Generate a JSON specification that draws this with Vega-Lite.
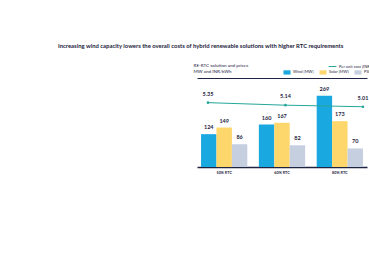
{
  "$schema": "https://vega.github.io/schema/vega-lite/v6.json",
  "width": 170,
  "height": 89,
  "autosize": {"type": "none"},
  "padding": {"left": 197, "top": 78, "right": 2, "bottom": 100},
  "background": "white",
  "config": {"view": {"stroke": null}, "font": "Lato"},
  "title": {
    "text": "Increasing wind capacity lowers the overall costs of hybrid renewable solutions with higher RTC requirements",
    "anchor": "start",
    "frame": "group",
    "dx": -139,
    "offset": 13,
    "fontSize": 5.9,
    "fontWeight": "bold",
    "color": "#1d2340"
  },
  "datasets": {
    "bars": [
      {"rtc": "50% RTC", "type": "Wind (MW)", "mw": 124},
      {"rtc": "50% RTC", "type": "Solar (MW)", "mw": 149},
      {"rtc": "50% RTC", "type": "PSP (MW)", "mw": 86},
      {"rtc": "60% RTC", "type": "Wind (MW)", "mw": 160},
      {"rtc": "60% RTC", "type": "Solar (MW)", "mw": 167},
      {"rtc": "60% RTC", "type": "PSP (MW)", "mw": 82},
      {"rtc": "80% RTC", "type": "Wind (MW)", "mw": 269},
      {"rtc": "80% RTC", "type": "Solar (MW)", "mw": 173},
      {"rtc": "80% RTC", "type": "PSP (MW)", "mw": 70}
    ],
    "cost": [
      {"rtc": "50% RTC", "cost": 5.35},
      {"rtc": "60% RTC", "cost": 5.14},
      {"rtc": "80% RTC", "cost": 5.01}
    ]
  },
  "layer": [
    {
      "data": {"name": "bars"},
      "encoding": {
        "x": {
          "field": "rtc",
          "type": "nominal",
          "sort": ["50% RTC", "60% RTC", "80% RTC"],
          "scale": {"paddingInner": 0.2, "paddingOuter": 0.07},
          "axis": {
            "orient": "bottom",
            "title": null,
            "labelAngle": 0,
            "labelFontSize": 3.8,
            "labelFontWeight": "bold",
            "labelColor": "#1d2340",
            "labelPadding": 3,
            "ticks": false,
            "domainColor": "#1d2340",
            "domainWidth": 1.5
          }
        },
        "xOffset": {
          "field": "type",
          "type": "nominal",
          "sort": ["Wind (MW)", "Solar (MW)", "PSP (MW)"],
          "scale": {"paddingInner": 0}
        },
        "y": {
          "field": "mw",
          "type": "quantitative",
          "scale": {"domain": [0, 336]},
          "axis": {
            "title": ["RE-RTC solution and prices", "MW and INR/kWh"],
            "titleAngle": 0,
            "titleAlign": "left",
            "titleBaseline": "top",
            "titleX": -4,
            "titleY": -16,
            "titleFontSize": 4.6,
            "titleFontWeight": "normal",
            "titleColor": "#1d2340",
            "titleLineHeight": 6,
            "labels": false,
            "ticks": false,
            "domain": false,
            "grid": false
          }
        }
      },
      "layer": [
        {
          "mark": {"type": "bar"},
          "encoding": {
            "color": {
              "field": "type",
              "type": "nominal",
              "scale": {
                "domain": ["Wind (MW)", "Solar (MW)", "PSP (MW)"],
                "range": ["#1AA8E0", "#FDD66C", "#C6CFE0"]
              },
              "legend": {
                "orient": "none",
                "legendX": 86,
                "legendY": -10,
                "direction": "horizontal",
                "title": null,
                "symbolType": "M-1,-0.6H1V0.6H-1Z",
                "symbolSize": 50,
                "symbolStrokeWidth": 0,
                "labelFontSize": 4,
                "labelColor": "#1d2340",
                "labelOffset": 2,
                "columnPadding": 5,
                "padding": 0
              }
            }
          }
        },
        {
          "mark": {"type": "text", "dy": -4, "fontSize": 5.5, "fontWeight": "bold", "color": "#1d2340", "baseline": "bottom"},
          "encoding": {"text": {"field": "mw", "type": "quantitative"}}
        }
      ]
    },
    {
      "data": {"name": "cost"},
      "encoding": {
        "x": {
          "field": "rtc",
          "type": "ordinal",
          "sort": ["50% RTC", "60% RTC", "80% RTC"],
          "scale": {"type": "point", "padding": 0.097, "align": 0.73},
          "axis": {
            "orient": "top",
            "title": null,
            "labels": false,
            "ticks": false,
            "domainColor": "#1d2340",
            "domainWidth": 1
          }
        },
        "y": {
          "field": "cost",
          "type": "quantitative",
          "scale": {"domain": [0, 7.4]},
          "axis": null
        }
      },
      "layer": [
        {
          "mark": {"type": "line", "strokeWidth": 1},
          "encoding": {
            "stroke": {
              "datum": "Per unit cost (INR/kWh)",
              "scale": {"range": ["#26A69A"]},
              "legend": {
                "orient": "none",
                "legendX": 131,
                "legendY": -16,
                "title": null,
                "symbolType": "stroke",
                "symbolSize": 60,
                "symbolStrokeWidth": 1,
                "labelFontSize": 4,
                "labelColor": "#1d2340",
                "labelOffset": 2,
                "padding": 0
              }
            }
          }
        },
        {
          "mark": {"type": "point", "filled": true, "size": 7, "color": "#26A69A", "opacity": 1},
          "encoding": {}
        },
        {
          "mark": {"type": "text", "dy": -6, "fontSize": 5.5, "fontWeight": "bold", "color": "#1d2340", "baseline": "bottom"},
          "encoding": {"text": {"field": "cost", "type": "quantitative", "format": ".2f"}}
        }
      ]
    }
  ],
  "resolve": {
    "scale": {"x": "independent", "y": "independent", "color": "independent"},
    "axis": {"x": "independent", "y": "independent"}
  }
}
